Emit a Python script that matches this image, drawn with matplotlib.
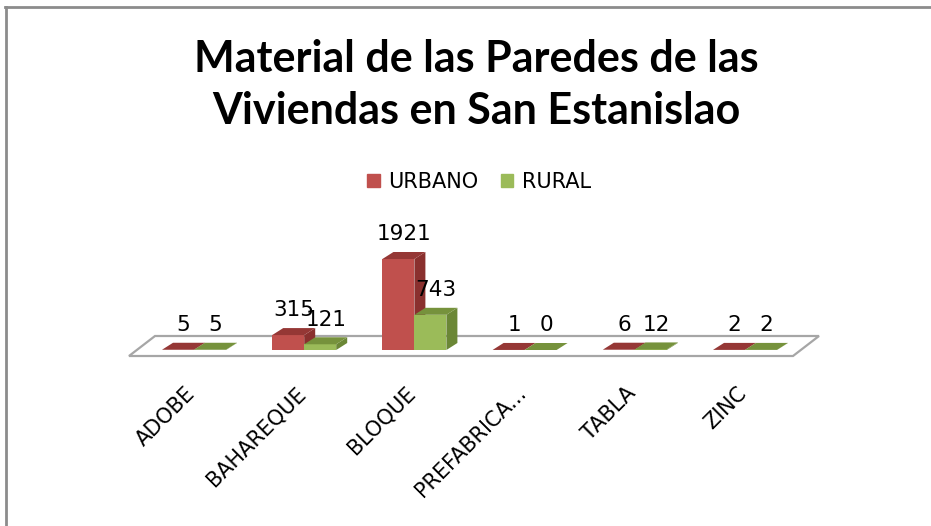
import matplotlib
matplotlib.use("Agg")
import matplotlib.pyplot as plt
from matplotlib.patches import Polygon
from matplotlib.lines import Line2D

categorias = ["ADOBE", "BAHAREQUE", "BLOQUE", "PREFABRICA...", "TABLA", "ZINC"]
urbano = [5, 315, 1921, 1, 6, 2]
rural = [5, 121, 743, 0, 12, 2]
series = ["URBANO", "RURAL"]

# colores de cara frontal, tapa y lateral de cada serie
rojo = ("#C0504D", "#953735", "#8A302E")
verde = ("#9BBB59", "#76923C", "#6B8736")

W, H = 931, 526
fig = plt.figure(figsize=(W / 100, H / 100), dpi=100)
fig.patch.set_facecolor("white")

# eje sobre toda la figura: 110.2 px por categoria, 0.04737 px por unidad
px_cat = 110.2
px_val = 0.04737
x0_pix, y0_pix = 194, 350
ax = fig.add_axes([0, 0, 1, 1])
ax.set_xlim(-x0_pix / px_cat, (W - x0_pix) / px_cat)
ax.set_ylim(-(H - y0_pix) / px_val, y0_pix / px_val)
ax.axis("off")

ancho = 32 / px_cat
dx = 11 / px_cat
dy = 7 / px_val

# piso en perspectiva
fx0, fx1 = (129 - x0_pix) / px_cat, (793 - x0_pix) / px_cat
fdx, fy0, fy1 = 26 / px_cat, -6 / px_val, 14 / px_val
piso = Polygon([(fx0, fy0), (fx1, fy0), (fx1 + fdx, fy1), (fx0 + fdx, fy1)],
               closed=True, facecolor="white", edgecolor="#A6A6A6", lw=1.6, zorder=1)
ax.add_patch(piso)


def barra3d(x, v, colores, z):
    frente, tapa, lado = colores
    ax.add_patch(Polygon([(x + ancho, 0), (x + ancho + dx, dy), (x + ancho + dx, v + dy), (x + ancho, v)],
                         closed=True, facecolor=lado, edgecolor="none", zorder=z))
    ax.bar(x, v, width=ancho, align="edge", color=frente, edgecolor="none", zorder=z)
    ax.add_patch(Polygon([(x, v), (x + ancho, v), (x + ancho + dx, v + dy), (x + dx, v + dy)],
                         closed=True, facecolor=tapa, edgecolor="none", zorder=z))
    ax.annotate(str(v), (x + ancho / 2 + dx / 2, v + dy), xytext=(0, 5.5), textcoords="offset points",
                ha="center", va="bottom", fontsize=15.5, color="black", zorder=10)


for i, (u, r) in enumerate(zip(urbano, rural)):
    barra3d(i - ancho, u, rojo, 2 + i * 2)
    barra3d(i, r, verde, 3 + i * 2)

# etiquetas de categoria inclinadas
for i, c in enumerate(categorias):
    ax.text(i - 9 / px_cat, -33 / px_val, c, rotation=45, rotation_mode="anchor",
            ha="right", va="top", fontsize=15, color="black")

# leyenda
handles = [plt.Rectangle((0, 0), 1, 1, color=rojo[0]), plt.Rectangle((0, 0), 1, 1, color=verde[0])]
fig.legend(handles, series, loc="center", bbox_to_anchor=(479 / W, 1 - 182 / H), ncol=2,
           frameon=False, fontsize=15, handlelength=0.6, handleheight=0.6,
           handletextpad=0.4, columnspacing=1.1)

# titulo
fig.text(476 / W, 1 - 59 / H, "Material de las Paredes de las", ha="center", va="center",
         fontsize=31, fontweight="bold", family="Lato")
fig.text(476 / W, 1 - 111 / H, "Viviendas en San Estanislao", ha="center", va="center",
         fontsize=31, fontweight="bold", family="Lato")

# marco
fig.add_artist(Line2D([6 / W, 6 / W], [0, 1 - 7 / H], color="#8C8C8C", lw=2))
fig.add_artist(Line2D([5 / W, 1], [1 - 7 / H, 1 - 7 / H], color="#8C8C8C", lw=2))

fig.savefig("out.png", dpi=100)
